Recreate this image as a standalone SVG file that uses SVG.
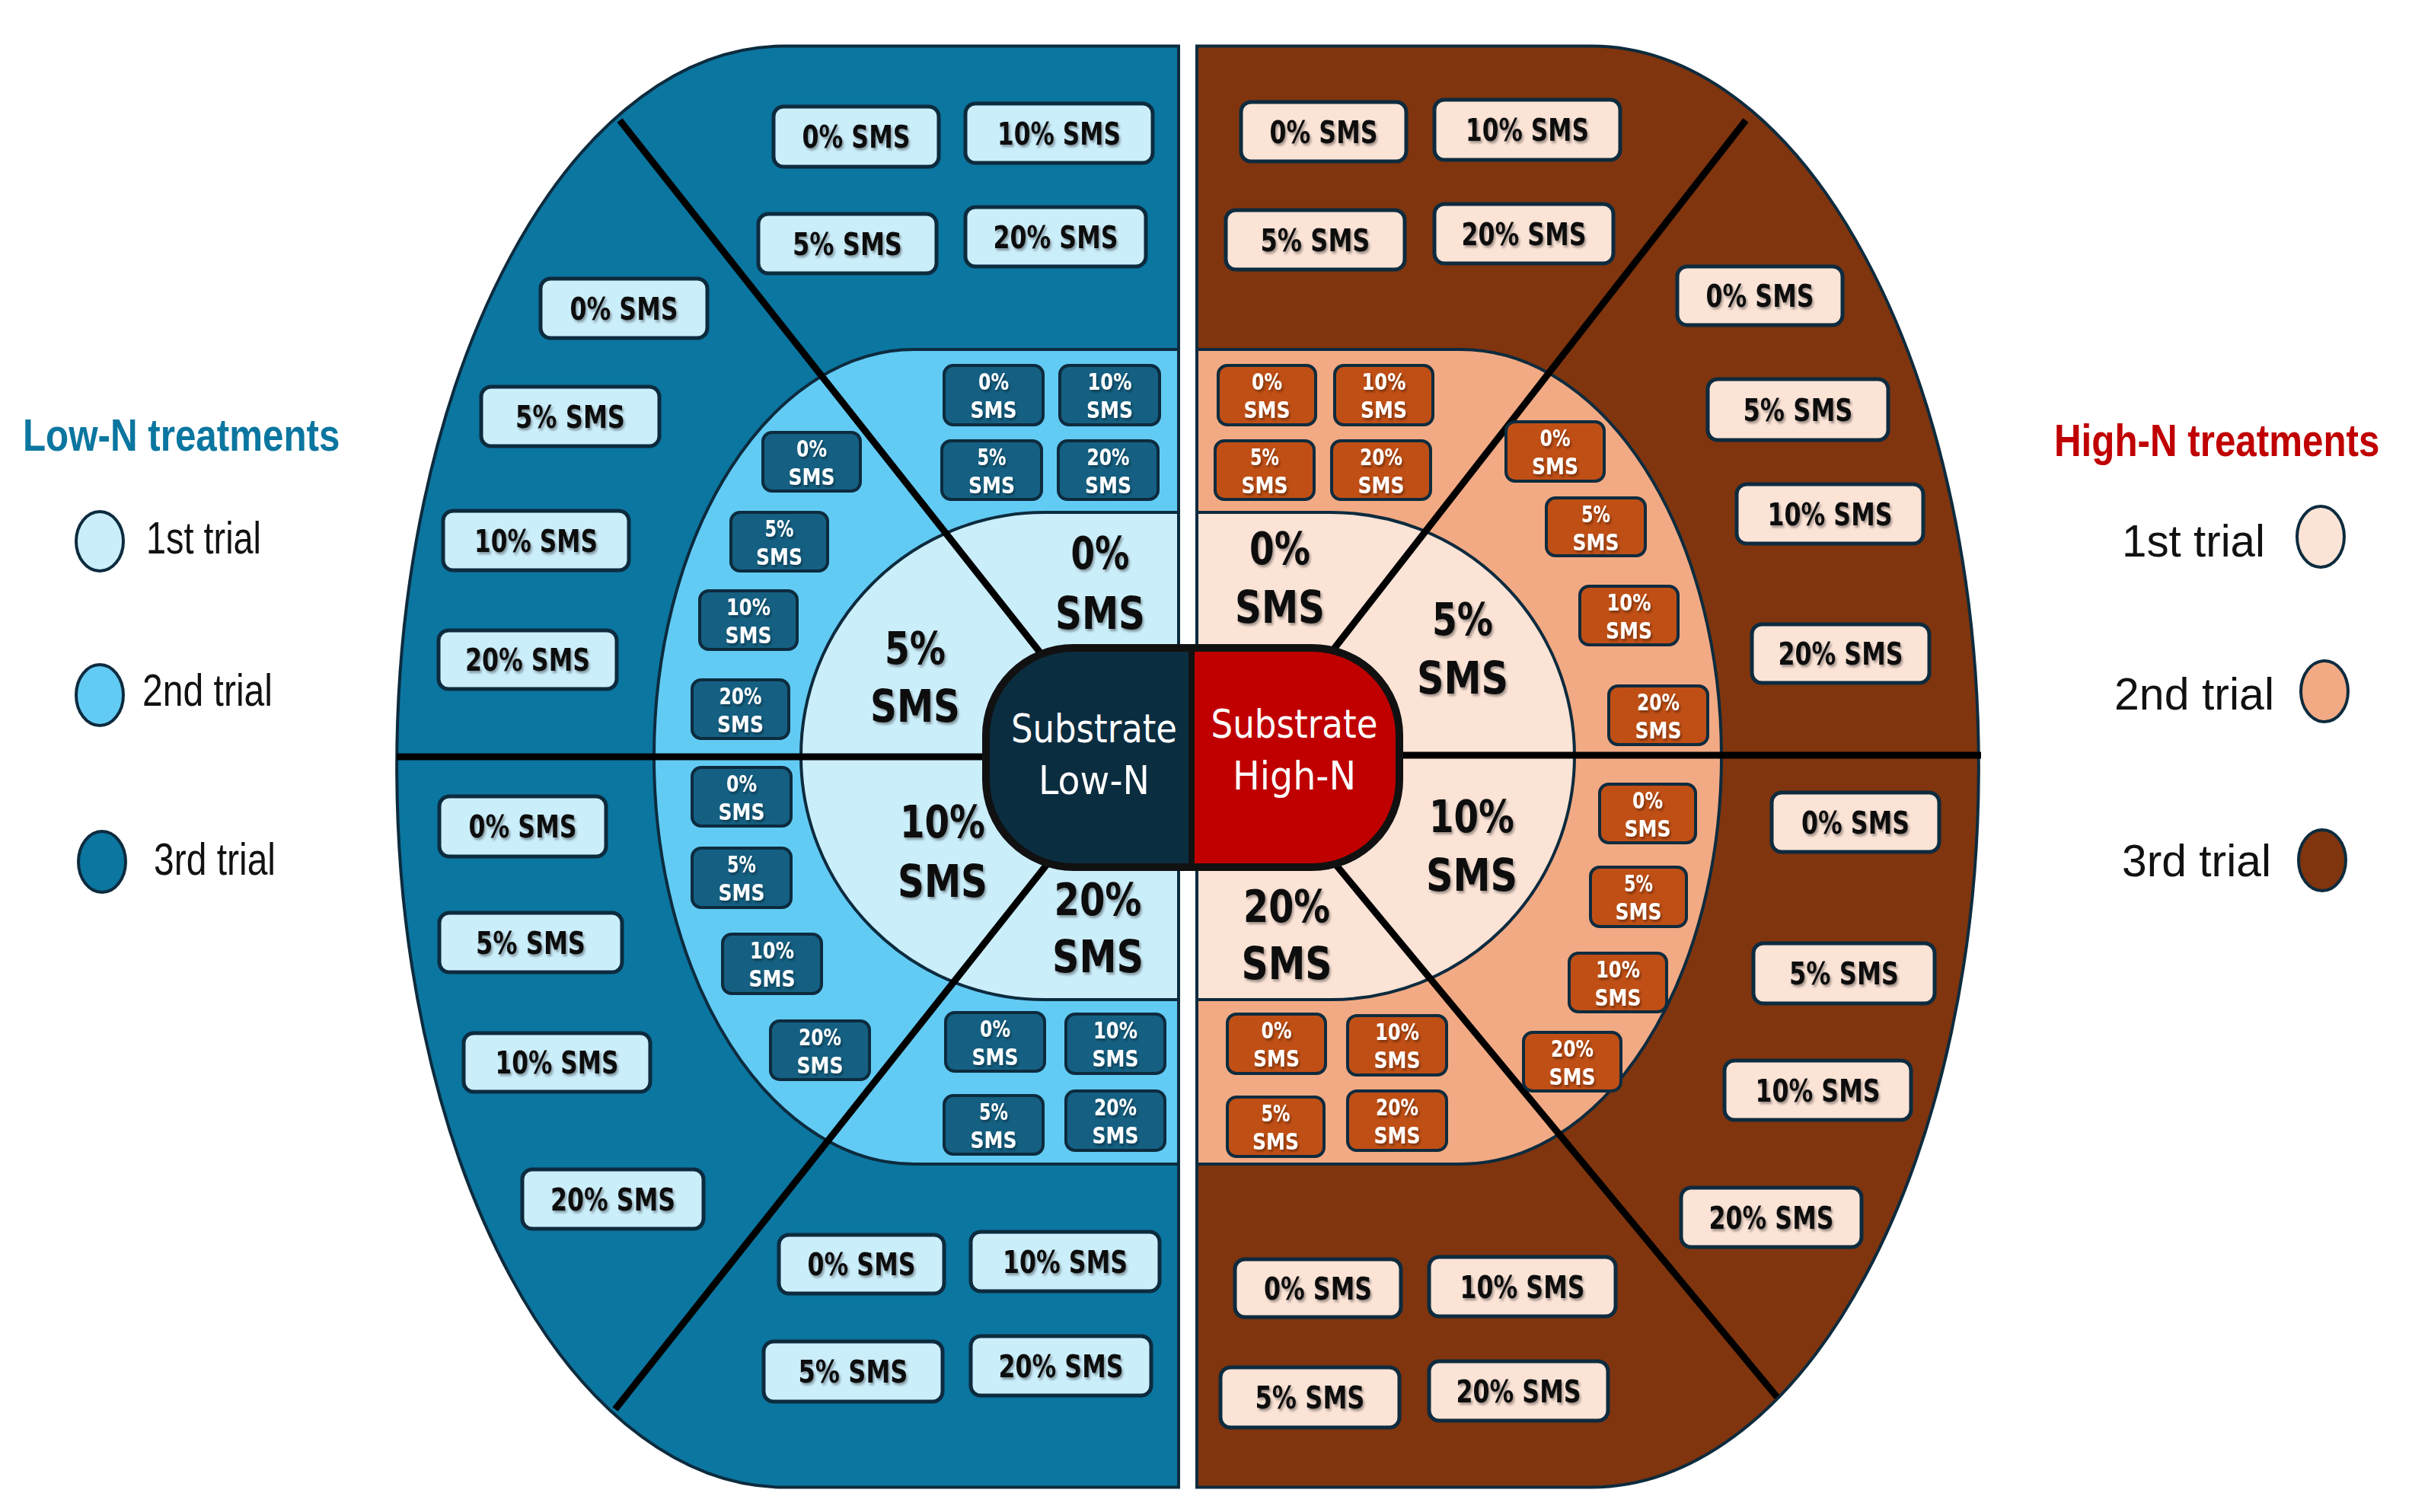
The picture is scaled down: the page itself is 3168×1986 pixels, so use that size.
<svg xmlns="http://www.w3.org/2000/svg" width="3168" height="1986" viewBox="0 0 3168 1986">
<defs>
<filter id="sh" x="-10%" y="-20%" width="130%" height="150%"><feDropShadow dx="2" dy="3" stdDeviation="1.5" flood-color="#000" flood-opacity="0.35"/></filter>
<style>
.reg{stroke:#0D2B3E;stroke-width:4}
.div{stroke:#000;stroke-width:9;fill:none}
.ob{stroke:#0D2B3E;stroke-width:5}
.mb{stroke:#0D2B3E;stroke-width:4}
.lo1{fill:#CBEEFB}.lo2{fill:#62CBF4}.lo3{fill:#0B76A0}
.hi1{fill:#FBE3D6}.hi2{fill:#F2AA84}.hi3{fill:#80350E}
.lob{fill:#156082}.hib{fill:#C04F15}
text{font-family:"DejaVu Sans","Liberation Sans",sans-serif;text-anchor:middle}
.ot{font-weight:bold;font-size:40px;fill:#111;filter:url(#sh)}
.mt{font-weight:bold;font-size:30px;fill:#fff;filter:url(#sh)}
.it{font-weight:bold;font-size:59px;fill:#111;filter:url(#sh)}
.ct{font-size:51px;fill:#fff}
.lg{font-family:"Liberation Sans",Arial,sans-serif;font-size:60px;fill:#111;text-anchor:start}
.lt{font-family:"Liberation Sans",Arial,sans-serif;font-weight:bold;font-size:59px;text-anchor:start}
.lc{stroke:#0D2B3E;stroke-width:4}
</style>
</defs>
<rect width="3168" height="1986" fill="#fff"/>

<!-- regions -->
<g id="region-lowN-3rd"><path class="reg lo3" d="M1548,60.5 L1030,60.5 A509,946.5 0 0 0 1030,1953.5 L1548,1953.5 Z"/></g>
<g id="region-lowN-2nd"><path class="reg lo2" d="M1548,459 L1201,459 A342,535 0 0 0 1201,1529 L1548,1529 Z"/></g>
<g id="region-lowN-1st"><path class="reg lo1" d="M1548,673 L1372,673 A320,320 0 0 0 1372,1313 L1548,1313 Z"/></g>
<g id="region-highN-3rd"><path class="reg hi3" d="M1572,60.5 L2090,60.5 A509,946.5 0 0 1 2090,1953.5 L1572,1953.5 Z"/></g>
<g id="region-highN-2nd"><path class="reg hi2" d="M1572,459 L1919,459 A342,535 0 0 1 1919,1529 L1572,1529 Z"/></g>
<g id="region-highN-1st"><path class="reg hi1" d="M1572,673 L1748,673 A320,320 0 0 1 1748,1313 L1572,1313 Z"/></g>

<!-- dividers -->
<g id="connectors">
<line class="div" x1="814" y1="158" x2="1430" y2="938"/>
<line class="div" x1="808" y1="1851" x2="1430" y2="1066"/>
<line class="div" x1="521" y1="994" x2="1320" y2="994"/>
<line class="div" x1="2293" y1="158" x2="1700" y2="919"/>
<line class="div" x1="2334" y1="1835" x2="1700" y2="1070"/>
<line class="div" x1="1810" y1="992" x2="2602" y2="992"/>
</g>

<!-- center capsule -->
<g id="substrate-lowN">
<path fill="#0B2D40" d="M1565,851 L1410,851 A115,115 0 0 0 1295,966 L1295,1024 A115,115 0 0 0 1410,1139 L1565,1139 Z"/>
<text class="ct" x="1437" y="975" textLength="218" lengthAdjust="spacingAndGlyphs">Substrate</text>
<text class="ct" x="1437" y="1043" textLength="146" lengthAdjust="spacingAndGlyphs">Low-N</text>
</g>
<g id="substrate-highN">
<path fill="#C00000" d="M1565,851 L1723,851 A115,115 0 0 1 1838,966 L1838,1024 A115,115 0 0 1 1723,1139 L1565,1139 Z"/>
<text class="ct" x="1700" y="969" textLength="219" lengthAdjust="spacingAndGlyphs">Substrate</text>
<text class="ct" x="1700" y="1037" textLength="162" lengthAdjust="spacingAndGlyphs">High-N</text>
</g>
<g id="capsule-outline">
<rect x="1295" y="851" width="543" height="288" rx="115" ry="115" fill="none" stroke="#111" stroke-width="10"/>
<line x1="1565" y1="851" x2="1565" y2="1139" stroke="#111" stroke-width="8"/>
</g>

<!-- 1st trial labels -->
<g id="lo1-0"><text class="it" x="1445" y="747" textLength="77" lengthAdjust="spacingAndGlyphs">0%</text><text class="it" x="1445" y="826" textLength="118" lengthAdjust="spacingAndGlyphs">SMS</text></g>
<g id="lo1-5"><text class="it" x="1202" y="872" textLength="80" lengthAdjust="spacingAndGlyphs">5%</text><text class="it" x="1202" y="948" textLength="118" lengthAdjust="spacingAndGlyphs">SMS</text></g>
<g id="lo1-10"><text class="it" x="1238" y="1100" textLength="112" lengthAdjust="spacingAndGlyphs">10%</text><text class="it" x="1238" y="1178" textLength="118" lengthAdjust="spacingAndGlyphs">SMS</text></g>
<g id="lo1-20"><text class="it" x="1442" y="1202" textLength="115" lengthAdjust="spacingAndGlyphs">20%</text><text class="it" x="1442" y="1277" textLength="120" lengthAdjust="spacingAndGlyphs">SMS</text></g>
<g id="hi1-0"><text class="it" x="1681" y="741" textLength="80" lengthAdjust="spacingAndGlyphs">0%</text><text class="it" x="1681" y="818" textLength="118" lengthAdjust="spacingAndGlyphs">SMS</text></g>
<g id="hi1-5"><text class="it" x="1921" y="834" textLength="80" lengthAdjust="spacingAndGlyphs">5%</text><text class="it" x="1921" y="911" textLength="120" lengthAdjust="spacingAndGlyphs">SMS</text></g>
<g id="hi1-10"><text class="it" x="1933" y="1093" textLength="112" lengthAdjust="spacingAndGlyphs">10%</text><text class="it" x="1933" y="1170" textLength="120" lengthAdjust="spacingAndGlyphs">SMS</text></g>
<g id="hi1-20"><text class="it" x="1690" y="1211" textLength="114" lengthAdjust="spacingAndGlyphs">20%</text><text class="it" x="1690" y="1286" textLength="119" lengthAdjust="spacingAndGlyphs">SMS</text></g>

<!-- 2nd trial boxes, Low-N -->
<g id="lo2-a0"><rect class="mb lob" x="1240" y="480" width="130" height="78" rx="12"/><text class="mt" x="1305" y="512" textLength="40" lengthAdjust="spacingAndGlyphs">0%</text><text class="mt" x="1305" y="549" textLength="61" lengthAdjust="spacingAndGlyphs">SMS</text></g>
<g id="lo2-a10"><rect class="mb lob" x="1392" y="480" width="131" height="78" rx="12"/><text class="mt" x="1457.5" y="512" textLength="58" lengthAdjust="spacingAndGlyphs">10%</text><text class="mt" x="1457.5" y="549" textLength="61" lengthAdjust="spacingAndGlyphs">SMS</text></g>
<g id="lo2-a5"><rect class="mb lob" x="1237" y="579" width="131" height="77" rx="12"/><text class="mt" x="1302.5" y="611" textLength="38" lengthAdjust="spacingAndGlyphs">5%</text><text class="mt" x="1302.5" y="648" textLength="61" lengthAdjust="spacingAndGlyphs">SMS</text></g>
<g id="lo2-a20"><rect class="mb lob" x="1390" y="579" width="131" height="77" rx="12"/><text class="mt" x="1455.5" y="611" textLength="56" lengthAdjust="spacingAndGlyphs">20%</text><text class="mt" x="1455.5" y="648" textLength="61" lengthAdjust="spacingAndGlyphs">SMS</text></g>
<g id="lo2-b0"><rect class="mb lob" x="1002" y="568" width="128" height="77" rx="12"/><text class="mt" x="1066" y="600" textLength="40" lengthAdjust="spacingAndGlyphs">0%</text><text class="mt" x="1066" y="637" textLength="61" lengthAdjust="spacingAndGlyphs">SMS</text></g>
<g id="lo2-b5"><rect class="mb lob" x="960" y="673" width="127" height="77" rx="12"/><text class="mt" x="1023.5" y="705" textLength="38" lengthAdjust="spacingAndGlyphs">5%</text><text class="mt" x="1023.5" y="742" textLength="61" lengthAdjust="spacingAndGlyphs">SMS</text></g>
<g id="lo2-b10"><rect class="mb lob" x="919" y="776" width="128" height="77" rx="12"/><text class="mt" x="983" y="808" textLength="58" lengthAdjust="spacingAndGlyphs">10%</text><text class="mt" x="983" y="845" textLength="61" lengthAdjust="spacingAndGlyphs">SMS</text></g>
<g id="lo2-b20"><rect class="mb lob" x="909" y="893" width="127" height="77" rx="12"/><text class="mt" x="972.5" y="925" textLength="56" lengthAdjust="spacingAndGlyphs">20%</text><text class="mt" x="972.5" y="962" textLength="61" lengthAdjust="spacingAndGlyphs">SMS</text></g>
<g id="lo2-c0"><rect class="mb lob" x="909" y="1008" width="130" height="77" rx="12"/><text class="mt" x="974" y="1040" textLength="40" lengthAdjust="spacingAndGlyphs">0%</text><text class="mt" x="974" y="1077" textLength="61" lengthAdjust="spacingAndGlyphs">SMS</text></g>
<g id="lo2-c5"><rect class="mb lob" x="909" y="1114" width="130" height="78" rx="12"/><text class="mt" x="974" y="1146" textLength="38" lengthAdjust="spacingAndGlyphs">5%</text><text class="mt" x="974" y="1183" textLength="61" lengthAdjust="spacingAndGlyphs">SMS</text></g>
<g id="lo2-c10"><rect class="mb lob" x="949" y="1227" width="130" height="78" rx="12"/><text class="mt" x="1014" y="1259" textLength="58" lengthAdjust="spacingAndGlyphs">10%</text><text class="mt" x="1014" y="1296" textLength="61" lengthAdjust="spacingAndGlyphs">SMS</text></g>
<g id="lo2-c20"><rect class="mb lob" x="1012" y="1341" width="130" height="77" rx="12"/><text class="mt" x="1077" y="1373" textLength="56" lengthAdjust="spacingAndGlyphs">20%</text><text class="mt" x="1077" y="1410" textLength="61" lengthAdjust="spacingAndGlyphs">SMS</text></g>
<g id="lo2-d0"><rect class="mb lob" x="1242" y="1330" width="130" height="77" rx="12"/><text class="mt" x="1307" y="1362" textLength="40" lengthAdjust="spacingAndGlyphs">0%</text><text class="mt" x="1307" y="1399" textLength="61" lengthAdjust="spacingAndGlyphs">SMS</text></g>
<g id="lo2-d10"><rect class="mb lob" x="1400" y="1332" width="130" height="78" rx="12"/><text class="mt" x="1465" y="1364" textLength="58" lengthAdjust="spacingAndGlyphs">10%</text><text class="mt" x="1465" y="1401" textLength="61" lengthAdjust="spacingAndGlyphs">SMS</text></g>
<g id="lo2-d5"><rect class="mb lob" x="1240" y="1439" width="130" height="77" rx="12"/><text class="mt" x="1305" y="1471" textLength="38" lengthAdjust="spacingAndGlyphs">5%</text><text class="mt" x="1305" y="1508" textLength="61" lengthAdjust="spacingAndGlyphs">SMS</text></g>
<g id="lo2-d20"><rect class="mb lob" x="1400" y="1433" width="130" height="78" rx="12"/><text class="mt" x="1465" y="1465" textLength="56" lengthAdjust="spacingAndGlyphs">20%</text><text class="mt" x="1465" y="1502" textLength="61" lengthAdjust="spacingAndGlyphs">SMS</text></g>

<!-- 2nd trial boxes, High-N -->
<g id="hi2-a0"><rect class="mb hib" x="1600" y="480" width="128" height="78" rx="12"/><text class="mt" x="1664" y="512" textLength="40" lengthAdjust="spacingAndGlyphs">0%</text><text class="mt" x="1664" y="549" textLength="61" lengthAdjust="spacingAndGlyphs">SMS</text></g>
<g id="hi2-a10"><rect class="mb hib" x="1753" y="480" width="129" height="78" rx="12"/><text class="mt" x="1817.5" y="512" textLength="58" lengthAdjust="spacingAndGlyphs">10%</text><text class="mt" x="1817.5" y="549" textLength="61" lengthAdjust="spacingAndGlyphs">SMS</text></g>
<g id="hi2-a5"><rect class="mb hib" x="1596" y="579" width="130" height="77" rx="12"/><text class="mt" x="1661" y="611" textLength="38" lengthAdjust="spacingAndGlyphs">5%</text><text class="mt" x="1661" y="648" textLength="61" lengthAdjust="spacingAndGlyphs">SMS</text></g>
<g id="hi2-a20"><rect class="mb hib" x="1749" y="579" width="130" height="77" rx="12"/><text class="mt" x="1814" y="611" textLength="56" lengthAdjust="spacingAndGlyphs">20%</text><text class="mt" x="1814" y="648" textLength="61" lengthAdjust="spacingAndGlyphs">SMS</text></g>
<g id="hi2-b0"><rect class="mb hib" x="1978" y="554" width="129" height="78" rx="12"/><text class="mt" x="2042.5" y="586" textLength="40" lengthAdjust="spacingAndGlyphs">0%</text><text class="mt" x="2042.5" y="623" textLength="61" lengthAdjust="spacingAndGlyphs">SMS</text></g>
<g id="hi2-b5"><rect class="mb hib" x="2031" y="654" width="130" height="76" rx="12"/><text class="mt" x="2096" y="686" textLength="38" lengthAdjust="spacingAndGlyphs">5%</text><text class="mt" x="2096" y="723" textLength="61" lengthAdjust="spacingAndGlyphs">SMS</text></g>
<g id="hi2-b10"><rect class="mb hib" x="2075" y="770" width="129" height="77" rx="12"/><text class="mt" x="2139.5" y="802" textLength="58" lengthAdjust="spacingAndGlyphs">10%</text><text class="mt" x="2139.5" y="839" textLength="61" lengthAdjust="spacingAndGlyphs">SMS</text></g>
<g id="hi2-b20"><rect class="mb hib" x="2113" y="901" width="130" height="77" rx="12"/><text class="mt" x="2178" y="933" textLength="56" lengthAdjust="spacingAndGlyphs">20%</text><text class="mt" x="2178" y="970" textLength="61" lengthAdjust="spacingAndGlyphs">SMS</text></g>
<g id="hi2-c0"><rect class="mb hib" x="2101" y="1030" width="126" height="77" rx="12"/><text class="mt" x="2164" y="1062" textLength="40" lengthAdjust="spacingAndGlyphs">0%</text><text class="mt" x="2164" y="1099" textLength="61" lengthAdjust="spacingAndGlyphs">SMS</text></g>
<g id="hi2-c5"><rect class="mb hib" x="2089" y="1139" width="126" height="78" rx="12"/><text class="mt" x="2152" y="1171" textLength="38" lengthAdjust="spacingAndGlyphs">5%</text><text class="mt" x="2152" y="1208" textLength="61" lengthAdjust="spacingAndGlyphs">SMS</text></g>
<g id="hi2-c10"><rect class="mb hib" x="2061" y="1252" width="128" height="77" rx="12"/><text class="mt" x="2125" y="1284" textLength="58" lengthAdjust="spacingAndGlyphs">10%</text><text class="mt" x="2125" y="1321" textLength="61" lengthAdjust="spacingAndGlyphs">SMS</text></g>
<g id="hi2-c20"><rect class="mb hib" x="2001" y="1356" width="128" height="77" rx="12"/><text class="mt" x="2065" y="1388" textLength="56" lengthAdjust="spacingAndGlyphs">20%</text><text class="mt" x="2065" y="1425" textLength="61" lengthAdjust="spacingAndGlyphs">SMS</text></g>
<g id="hi2-d0"><rect class="mb hib" x="1612" y="1332" width="129" height="78" rx="12"/><text class="mt" x="1676.5" y="1364" textLength="40" lengthAdjust="spacingAndGlyphs">0%</text><text class="mt" x="1676.5" y="1401" textLength="61" lengthAdjust="spacingAndGlyphs">SMS</text></g>
<g id="hi2-d10"><rect class="mb hib" x="1770" y="1334" width="130" height="78" rx="12"/><text class="mt" x="1835" y="1366" textLength="58" lengthAdjust="spacingAndGlyphs">10%</text><text class="mt" x="1835" y="1403" textLength="61" lengthAdjust="spacingAndGlyphs">SMS</text></g>
<g id="hi2-d5"><rect class="mb hib" x="1612" y="1441" width="127" height="78" rx="12"/><text class="mt" x="1675.5" y="1473" textLength="38" lengthAdjust="spacingAndGlyphs">5%</text><text class="mt" x="1675.5" y="1510" textLength="61" lengthAdjust="spacingAndGlyphs">SMS</text></g>
<g id="hi2-d20"><rect class="mb hib" x="1770" y="1433" width="130" height="78" rx="12"/><text class="mt" x="1835" y="1465" textLength="56" lengthAdjust="spacingAndGlyphs">20%</text><text class="mt" x="1835" y="1502" textLength="61" lengthAdjust="spacingAndGlyphs">SMS</text></g>

<!-- 3rd trial boxes, Low-N -->
<g id="lo3-a0"><rect class="ob lo1" x="1016" y="140" width="217" height="79" rx="13"/><text class="ot" x="1124.5" y="194" textLength="142" lengthAdjust="spacingAndGlyphs">0% SMS</text></g>
<g id="lo3-a10"><rect class="ob lo1" x="1268" y="136" width="246" height="78" rx="13"/><text class="ot" x="1391" y="189.5" textLength="162" lengthAdjust="spacingAndGlyphs">10% SMS</text></g>
<g id="lo3-a5"><rect class="ob lo1" x="996" y="281" width="234" height="78" rx="13"/><text class="ot" x="1113" y="334.5" textLength="144" lengthAdjust="spacingAndGlyphs">5% SMS</text></g>
<g id="lo3-a20"><rect class="ob lo1" x="1268" y="272" width="237" height="78" rx="13"/><text class="ot" x="1386.5" y="325.5" textLength="164" lengthAdjust="spacingAndGlyphs">20% SMS</text></g>
<g id="lo3-b0"><rect class="ob lo1" x="710" y="366" width="219" height="78" rx="13"/><text class="ot" x="819.5" y="419.5" textLength="142" lengthAdjust="spacingAndGlyphs">0% SMS</text></g>
<g id="lo3-b5"><rect class="ob lo1" x="632" y="508" width="234" height="78" rx="13"/><text class="ot" x="749" y="561.5" textLength="144" lengthAdjust="spacingAndGlyphs">5% SMS</text></g>
<g id="lo3-b10"><rect class="ob lo1" x="582" y="671" width="244" height="78" rx="13"/><text class="ot" x="704" y="724.5" textLength="162" lengthAdjust="spacingAndGlyphs">10% SMS</text></g>
<g id="lo3-b20"><rect class="ob lo1" x="576" y="828" width="234" height="77" rx="13"/><text class="ot" x="693" y="881" textLength="164" lengthAdjust="spacingAndGlyphs">20% SMS</text></g>
<g id="lo3-c0"><rect class="ob lo1" x="577" y="1046" width="219" height="79" rx="13"/><text class="ot" x="686.5" y="1100" textLength="142" lengthAdjust="spacingAndGlyphs">0% SMS</text></g>
<g id="lo3-c5"><rect class="ob lo1" x="577" y="1199" width="240" height="78" rx="13"/><text class="ot" x="697" y="1252.5" textLength="144" lengthAdjust="spacingAndGlyphs">5% SMS</text></g>
<g id="lo3-c10"><rect class="ob lo1" x="609" y="1357" width="245" height="77" rx="13"/><text class="ot" x="731.5" y="1410" textLength="162" lengthAdjust="spacingAndGlyphs">10% SMS</text></g>
<g id="lo3-c20"><rect class="ob lo1" x="686" y="1536" width="238" height="78" rx="13"/><text class="ot" x="805" y="1589.5" textLength="164" lengthAdjust="spacingAndGlyphs">20% SMS</text></g>
<g id="lo3-d0"><rect class="ob lo1" x="1023" y="1622" width="217" height="77" rx="13"/><text class="ot" x="1131.5" y="1675" textLength="142" lengthAdjust="spacingAndGlyphs">0% SMS</text></g>
<g id="lo3-d10"><rect class="ob lo1" x="1275" y="1618" width="248" height="78" rx="13"/><text class="ot" x="1399" y="1671.5" textLength="164" lengthAdjust="spacingAndGlyphs">10% SMS</text></g>
<g id="lo3-d5"><rect class="ob lo1" x="1003" y="1762" width="235" height="79" rx="13"/><text class="ot" x="1120.5" y="1816" textLength="144" lengthAdjust="spacingAndGlyphs">5% SMS</text></g>
<g id="lo3-d20"><rect class="ob lo1" x="1275" y="1755" width="237" height="78" rx="13"/><text class="ot" x="1393.5" y="1808.5" textLength="164" lengthAdjust="spacingAndGlyphs">20% SMS</text></g>

<!-- 3rd trial boxes, High-N -->
<g id="hi3-a0"><rect class="ob hi1" x="1630" y="134" width="217" height="78" rx="13"/><text class="ot" x="1738.5" y="187.5" textLength="142" lengthAdjust="spacingAndGlyphs">0% SMS</text></g>
<g id="hi3-a10"><rect class="ob hi1" x="1884" y="131" width="244" height="79" rx="13"/><text class="ot" x="2006" y="185" textLength="162" lengthAdjust="spacingAndGlyphs">10% SMS</text></g>
<g id="hi3-a5"><rect class="ob hi1" x="1610" y="276" width="235" height="78" rx="13"/><text class="ot" x="1727.5" y="329.5" textLength="144" lengthAdjust="spacingAndGlyphs">5% SMS</text></g>
<g id="hi3-a20"><rect class="ob hi1" x="1884" y="268" width="235" height="78" rx="13"/><text class="ot" x="2001.5" y="321.5" textLength="164" lengthAdjust="spacingAndGlyphs">20% SMS</text></g>
<g id="hi3-b0"><rect class="ob hi1" x="2203" y="350" width="217" height="77" rx="13"/><text class="ot" x="2311.5" y="403" textLength="142" lengthAdjust="spacingAndGlyphs">0% SMS</text></g>
<g id="hi3-b5"><rect class="ob hi1" x="2243" y="498" width="237" height="80" rx="13"/><text class="ot" x="2361.5" y="552.5" textLength="144" lengthAdjust="spacingAndGlyphs">5% SMS</text></g>
<g id="hi3-b10"><rect class="ob hi1" x="2281" y="636" width="245" height="78" rx="13"/><text class="ot" x="2403.5" y="689.5" textLength="164" lengthAdjust="spacingAndGlyphs">10% SMS</text></g>
<g id="hi3-b20"><rect class="ob hi1" x="2301" y="820" width="233" height="77" rx="13"/><text class="ot" x="2417.5" y="873" textLength="164" lengthAdjust="spacingAndGlyphs">20% SMS</text></g>
<g id="hi3-c0"><rect class="ob hi1" x="2327" y="1041" width="220" height="78" rx="13"/><text class="ot" x="2437" y="1094.5" textLength="142" lengthAdjust="spacingAndGlyphs">0% SMS</text></g>
<g id="hi3-c5"><rect class="ob hi1" x="2303" y="1239" width="238" height="79" rx="13"/><text class="ot" x="2422" y="1293" textLength="144" lengthAdjust="spacingAndGlyphs">5% SMS</text></g>
<g id="hi3-c10"><rect class="ob hi1" x="2265" y="1393" width="245" height="78" rx="13"/><text class="ot" x="2387.5" y="1446.5" textLength="164" lengthAdjust="spacingAndGlyphs">10% SMS</text></g>
<g id="hi3-c20"><rect class="ob hi1" x="2208" y="1560" width="237" height="78" rx="13"/><text class="ot" x="2326.5" y="1613.5" textLength="164" lengthAdjust="spacingAndGlyphs">20% SMS</text></g>
<g id="hi3-d0"><rect class="ob hi1" x="1622" y="1654" width="218" height="76" rx="13"/><text class="ot" x="1731" y="1706.5" textLength="142" lengthAdjust="spacingAndGlyphs">0% SMS</text></g>
<g id="hi3-d10"><rect class="ob hi1" x="1877" y="1651" width="245" height="78" rx="13"/><text class="ot" x="1999.5" y="1704.5" textLength="164" lengthAdjust="spacingAndGlyphs">10% SMS</text></g>
<g id="hi3-d5"><rect class="ob hi1" x="1603" y="1796" width="235" height="79" rx="13"/><text class="ot" x="1720.5" y="1850" textLength="144" lengthAdjust="spacingAndGlyphs">5% SMS</text></g>
<g id="hi3-d20"><rect class="ob hi1" x="1877" y="1788" width="235" height="78" rx="13"/><text class="ot" x="1994.5" y="1841.5" textLength="164" lengthAdjust="spacingAndGlyphs">20% SMS</text></g>

<!-- legends -->
<g id="legend-lowN">
<text class="lt" transform="translate(30,592) scale(0.836,1)" x="0" y="0" fill="#0B76A0">Low-N treatments</text>
<ellipse class="lc lo1" cx="131" cy="711" rx="31" ry="39"/>
<text class="lg" x="192" y="727" textLength="151" lengthAdjust="spacingAndGlyphs">1st trial</text>
<ellipse class="lc lo2" cx="131" cy="913" rx="31" ry="40"/>
<text class="lg" x="187" y="927" textLength="171" lengthAdjust="spacingAndGlyphs">2nd trial</text>
<ellipse class="lc lo3" cx="134" cy="1132" rx="31" ry="40"/>
<text class="lg" x="202" y="1149" textLength="160" lengthAdjust="spacingAndGlyphs">3rd trial</text>
</g>
<g id="legend-highN">
<text class="lt" transform="translate(2698,599) scale(0.836,1)" x="0" y="0" fill="#C00000">High-N treatments</text>
<ellipse class="lc hi1" cx="3048" cy="705" rx="31" ry="40"/>
<text class="lg" x="2787" y="731" textLength="188" lengthAdjust="spacingAndGlyphs">1st trial</text>
<ellipse class="lc hi2" cx="3053" cy="908" rx="31" ry="40"/>
<text class="lg" x="2777" y="932" textLength="210" lengthAdjust="spacingAndGlyphs">2nd trial</text>
<ellipse class="lc hi3" cx="3050" cy="1130" rx="31" ry="40"/>
<text class="lg" x="2787" y="1151" textLength="196" lengthAdjust="spacingAndGlyphs">3rd trial</text>
</g>
</svg>
